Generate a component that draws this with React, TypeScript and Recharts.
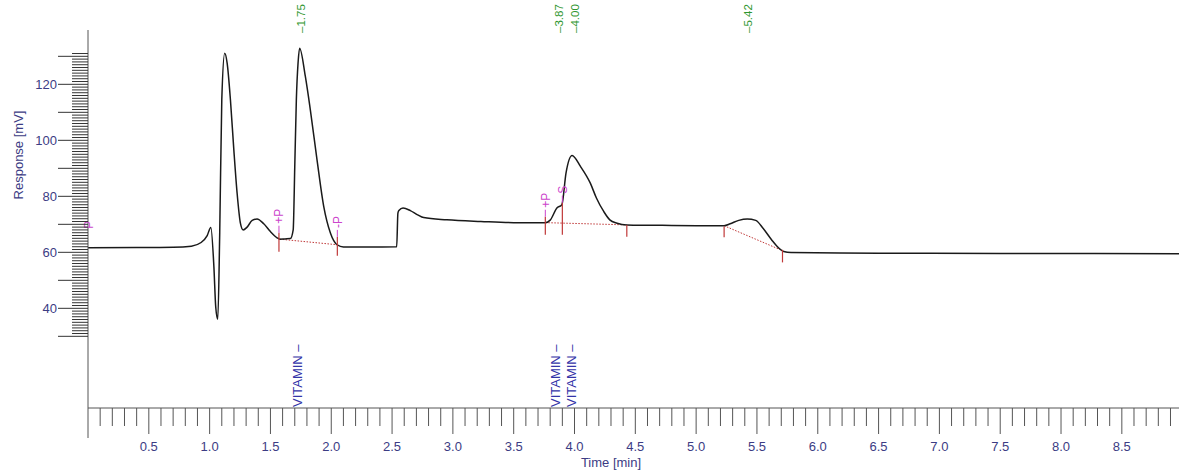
import React from "react";
import { LineChart, Line, XAxis, YAxis, ReferenceLine, ReferenceDot } from "recharts";

// chromatogram trace: time [min] / response [mV]
const traceTime = [
  0, 0.4, 0.7, 0.85, 0.93, 0.98, 1.01, 1.035, 1.05, 1.067, 1.083, 1.1, 1.124, 1.144, 1.171, 1.199,
  1.226, 1.253, 1.275, 1.308, 1.35, 1.39, 1.445, 1.5, 1.555, 1.576, 1.62, 1.664, 1.687, 1.7, 1.713,
  1.727, 1.74, 1.787, 1.828, 1.883, 1.938, 1.993, 2.048, 2.1, 2.3, 2.538, 2.548, 2.556, 2.59, 2.65,
  2.71, 2.76, 2.95, 3.23, 3.5, 3.76, 3.8, 3.855, 3.896, 3.93, 3.98, 4.05, 4.13, 4.18, 4.24, 4.29,
  4.35, 4.43, 4.8, 5.23, 5.28, 5.35, 5.42, 5.49, 5.55, 5.62, 5.68, 5.72, 5.78, 6.5, 7.5, 8.97,
];
const traceSignal = [
  61.6, 61.7, 61.8, 62.2, 63.5, 66.0, 68.9, 54.9, 40.6, 36.1, 67, 114.5, 131.1, 127.6, 114.5, 96.6,
  81.1, 70.4, 68.0, 69.0, 71.4, 71.9, 70.2, 67.4, 65.2, 64.7, 64.8, 64.9, 68.0, 90.6, 114.5,
  127.6, 132.9, 122.8, 110.9, 93.0, 76.4, 66.9, 62.7, 61.9, 61.9, 62.0, 74.0, 74.9, 75.8, 74.9,
  73.4, 72.4, 71.6, 71.0, 70.6, 70.6, 71.5, 75.8, 77.0, 88.3, 94.6, 90.6, 84.7, 79.4, 74.6, 71.6,
  70.4, 69.8, 69.6, 69.5, 70.2, 71.4, 71.9, 71.4, 68.6, 64.5, 61.5, 60.3, 59.9, 59.7, 59.6, 59.5,
];

// retention time labels (top) and compound names (bottom)
const peakTimes = [1.75, 3.87, 4.0, 5.42];
const peakLabels = ["1.75", "3.87", "4.00", "5.42"];
const compoundTimes = [1.75, 3.87, 4.0];
const compoundNames = ["VITAMIN", "VITAMIN", "VITAMIN"];

// integration events: tick from top to bottom level, optional text
const eventTimes = [1.57, 2.05, 3.76, 3.9, 4.43, 5.23, 5.71];
const eventTop = [67.0, 65.5, 72.7, 77.7, 69.8, 69.2, 60.9];
const eventBottom = [60.2, 58.75, 66.25, 66.25, 65.6, 65.4, 56.4];
const eventTexts = ["+P", "-P", "+P", "S", "", "", ""];

// dotted baselines under integrated peaks
const baseStartTime = [1.576, 3.76, 5.23];
const baseStartLevel = [64.7, 70.6, 69.5];
const baseEndTime = [2.05, 4.43, 5.71];
const baseEndLevel = [62.7, 69.8, 60.6];

const X_MAX = 8.97;
const Y_MIN = 4.4;
const Y_MAX = 139.4;
const xTicks = Array.from({ length: 90 }, (_, i) => i / 10);
const yTicks = Array.from({ length: 102 }, (_, i) => 30 + i);
const yLabels = [40, 60, 80, 100, 120];

const FONT = "Arial, 'Liberation Sans', sans-serif";
const AXIS_TEXT = "#3c3c84";
const AXIS_LINE = "#555";
const PINK = "#cc44cc";
const RED = "#c03838";
const GREEN = "#2f962f";
const NAME_BLUE = "#3434a8";

const data = traceTime.map((t, i) => ({ t, v: traceSignal[i] }));

function XTick(props: any) {
  const { x, y, payload } = props;
  const i = Math.round(payload.value * 10);
  const len = i === 0 ? 30 : i % 5 === 0 ? 26 : 18;
  return (
    <g>
      <line x1={x} x2={x} y1={y} y2={y + len} stroke={AXIS_LINE} strokeWidth={1} />
      {i % 5 === 0 && i > 0 && (
        <text x={x} y={y + 43} textAnchor="middle" fontSize={13} fontFamily={FONT} fill={AXIS_TEXT}>
          {(i / 10).toFixed(1)}
        </text>
      )}
    </g>
  );
}

function YTick(props: any) {
  const { x, y, payload } = props;
  const v = payload.value;
  const len = v % 10 === 0 ? 30 : 16;
  return (
    <g>
      <line x1={x - len} x2={x} y1={y} y2={y} stroke="#333" strokeWidth={1} />
      {yLabels.includes(v) && (
        <text x={x - 31} y={y + 4.5} textAnchor="end" fontSize={13} fontFamily={FONT} fill={AXIS_TEXT}>
          {v}
        </text>
      )}
    </g>
  );
}

function upText(x: number, y: number, text: string, color: string, size: number) {
  return (
    <text
      transform={`translate(${x}, ${y}) rotate(-90)`}
      textAnchor="start"
      fontSize={size}
      fontFamily={FONT}
      fill={color}
    >
      {text}
    </text>
  );
}

export default function App() {
  return (
    <div style={{ position: "absolute", left: 0, top: 0, width: 1179, height: 472, background: "#fff" }}>
      <LineChart width={1179} height={472} data={data} margin={{ top: 30, right: 0, bottom: 0, left: 0 }}>
        <XAxis
          dataKey="t"
          type="number"
          domain={[0, X_MAX]}
          allowDataOverflow
          ticks={xTicks}
          interval={0}
          tick={<XTick />}
          tickLine={false}
          tickSize={0}
          tickMargin={0}
          height={64}
          axisLine={{ stroke: AXIS_LINE }}
          label={(p: any) => {
            const vb = p.viewBox;
            return (
              <text x={vb.x + 523} y={vb.y + 59} textAnchor="middle" fontSize={13} fontFamily={FONT} fill={AXIS_TEXT}>
                Time [min]
              </text>
            );
          }}
        />
        <YAxis
          type="number"
          domain={[Y_MIN, Y_MAX]}
          allowDataOverflow
          ticks={yTicks}
          interval={0}
          tick={<YTick />}
          tickLine={false}
          tickSize={0}
          tickMargin={0}
          width={88}
          axisLine={{ stroke: AXIS_LINE }}
          label={(p: any) => {
            const vb = p.viewBox;
            return (
              <text
                transform={`translate(${vb.x + 22.5}, ${vb.y + 125}) rotate(-90)`}
                textAnchor="middle"
                fontSize={13}
                fontFamily={FONT}
                fill={AXIS_TEXT}
              >
                Response [mV]
              </text>
            );
          }}
        />

        {baseStartTime.map((t, i) => (
          <ReferenceLine
            key={`base-${i}`}
            segment={[
              { x: t, y: baseStartLevel[i] },
              { x: baseEndTime[i], y: baseEndLevel[i] },
            ]}
            stroke={RED}
            strokeDasharray="1.5 1.5"
            strokeWidth={1}
            ifOverflow="visible"
          />
        ))}

        <Line
          type="monotone"
          dataKey="v"
          stroke="#1a1a1a"
          strokeWidth={1.5}
          dot={false}
          isAnimationActive={false}
        />

        {eventTimes.map((t, i) => (
          <ReferenceLine
            key={`ev-${i}`}
            segment={[
              { x: t, y: eventTop[i] },
              { x: t, y: eventBottom[i] },
            ]}
            stroke={RED}
            strokeWidth={1.2}
            ifOverflow="visible"
          />
        ))}

        {eventTimes.map((t, i) =>
          eventTexts[i] ? (
            <ReferenceDot
              key={`evt-${i}`}
              x={t}
              y={eventTop[i]}
              ifOverflow="visible"
              shape={(p: any) => (
                <g>
                  <line x1={p.cx} x2={p.cx} y1={p.cy} y2={p.cy - 7} stroke={PINK} strokeWidth={1} />
                  {upText(p.cx + 4.5, p.cy - 9, eventTexts[i], PINK, 12)}
                </g>
              )}
            />
          ) : null
        )}

        <ReferenceDot
          x={0}
          y={traceSignal[0]}
          ifOverflow="visible"
          shape={(p: any) => upText(p.cx + 4.5, p.cy - 19, "P", PINK, 12)}
        />

        {peakTimes.map((t, i) => (
          <ReferenceDot
            key={`pk-${i}`}
            x={t}
            y={Y_MAX}
            ifOverflow="visible"
            shape={(p: any) => upText(p.cx + 4.5, p.cy + 3, "\u2013" + peakLabels[i], GREEN, 11.5)}
          />
        ))}

        {compoundTimes.map((t, i) => (
          <ReferenceDot
            key={`cmp-${i}`}
            x={t}
            y={Y_MIN}
            ifOverflow="visible"
            shape={(p: any) => upText(p.cx + 1.5, p.cy - 1, compoundNames[i] + " \u2013", NAME_BLUE, 13)}
          />
        ))}
      </LineChart>
    </div>
  );
}
